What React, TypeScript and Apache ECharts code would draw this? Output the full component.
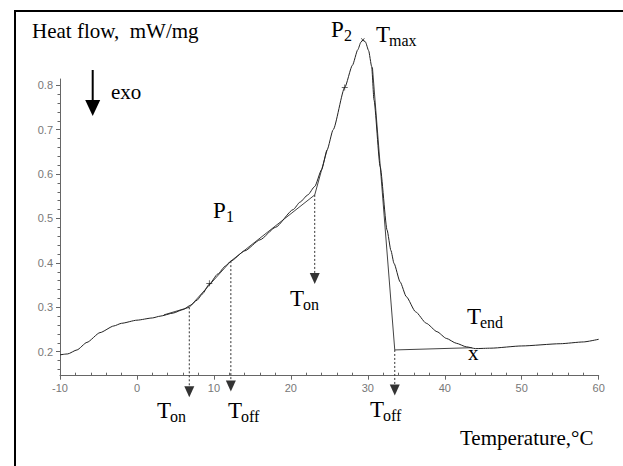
import React, { useEffect, useRef } from 'react';
import * as echarts from 'echarts';

// Main DSC curve (temperature °C, heat flow mW/mg)
const curveTemp = [-10, -9, -7.8, -6.5, -4.8, -3, -2, 0, 2, 3, 4.7, 6, 7, 7.8, 8.5, 9.4, 10.5, 11.5, 12.2, 14, 16, 18, 20.3, 21.2, 22.2, 23.1, 24.0, 24.7, 25.5, 27.0, 28.0, 28.7, 29.1, 29.4, 29.7, 30.1, 30.5, 30.8, 31.6, 32.5, 33.0, 33.4, 34.2, 35.0, 36.2, 37.6, 39.0, 40.2, 41.5, 42.8, 44.0, 46.0, 50.0, 55.0, 58.0, 60.0];
const curveHeat = [0.193, 0.195, 0.204, 0.221, 0.243, 0.258, 0.264, 0.271, 0.276, 0.280, 0.287, 0.295, 0.305, 0.316, 0.330, 0.352, 0.375, 0.393, 0.404, 0.427, 0.452, 0.480, 0.520, 0.537, 0.553, 0.572, 0.610, 0.654, 0.700, 0.795, 0.845, 0.880, 0.897, 0.902, 0.897, 0.878, 0.842, 0.767, 0.617, 0.474, 0.428, 0.399, 0.357, 0.324, 0.290, 0.264, 0.245, 0.230, 0.219, 0.211, 0.207, 0.208, 0.213, 0.218, 0.222, 0.228];

// Construction (tangent / baseline) lines
const buildTemp1 = [3.5, 6.8, 12.2, 23.1, 24.7];
const buildHeat1 = [0.283, 0.300, 0.404, 0.553, 0.654];
const buildTemp2 = [30.6, 33.5, 43.5];
const buildHeat2 = [0.84, 0.204, 0.209];

// Small markers on the curve
const crossTemp = [9.4, 27.0];
const crossHeat = [0.354, 0.795];
const peakTemp = [29.35];
const peakHeat = [0.902];

// Characteristic temperatures: dotted drop lines and arrows
const dropTemp = [6.8, 12.2, 23.1, 33.5];
const dropTopHeat = [0.300, 0.404, 0.553, 0.204];
const dropBottomHeat = [0.121, 0.135, 0.377, 0.125];
const arrowHeat = [0.110, 0.123, 0.365, 0.114];

// Axes
const xMin = -10;
const xMax = 60;
const xTicks = [-10, 0, 10, 20, 30, 40, 50, 60];
const yMin = 0.146;
const yMax = 0.814;
const yTicks = [0.2, 0.3, 0.4, 0.5, 0.6, 0.7, 0.8];

const minorOf = (ticks: number[], parts: number, lo: number, hi: number) => {
  const step = (ticks[1] - ticks[0]) / parts;
  const out: number[] = [];
  const start = ticks[0] - step * parts;
  for (let i = 0; i <= (ticks.length + 1) * parts; i++) {
    const v = Math.round((start + i * step) * 1e6) / 1e6;
    if (v > lo && v < hi && i % parts !== 0) out.push(v);
  }
  return out;
};

const serif = "'Times New Roman', 'Liberation Serif', serif";
const sans = "Arial, 'Liberation Sans', sans-serif";

const txt = (text: string, x: number, baseline: number, size: number) => ({
  type: 'text',
  x,
  y: baseline - 0.33 * size,
  style: { text, fontFamily: serif, fontSize: size, fill: '#000', align: 'left', verticalAlign: 'middle' },
  z: 10,
});

const labelT = (main: string, sub: string, x: number, baseline: number) => [
  txt(main, x, baseline, 23),
  txt(sub, x + 13, baseline + 4, 16),
];

export default function App() {
  const ref = useRef<HTMLDivElement>(null);
  useEffect(() => {
    if (!ref.current) return;
    const chart = echarts.init(ref.current, undefined, { renderer: 'svg' });
    const lineColor = '#222';
    const axisColor = '#666';
    const dropSeries = dropTemp.map((t, i) => ({
      type: 'line',
      data: [[t, dropTopHeat[i]], [t, dropBottomHeat[i]]],
      symbol: 'none',
      clip: false,
      lineStyle: { color: '#333', width: 1, type: [2, 2] },
      z: 3,
    }));
    chart.setOption({
      animation: false,
      backgroundColor: '#fff',
      grid: { left: 60, right: 24.3, top: 79, bottom: 90.3 },
      xAxis: [
        {
          type: 'value', min: xMin, max: xMax, interval: 10, position: 'bottom',
          axisLine: { onZero: false, lineStyle: { color: axisColor, width: 1 } },
          axisTick: { show: true, length: 4, lineStyle: { color: axisColor } },
          axisLabel: { color: '#777', fontFamily: sans, fontSize: 11, margin: 7 },
          splitLine: { show: false },
        },
        {
          type: 'value', min: xMin, max: xMax, position: 'bottom',
          axisLine: { show: false, onZero: false },
          axisTick: { show: true, inside: true, length: 3, lineStyle: { color: axisColor }, customValues: minorOf(xTicks, 5, xMin, xMax) },
          axisLabel: { show: false },
          splitLine: { show: false },
        },
      ],
      yAxis: [
        {
          type: 'value', min: yMin, max: yMax, position: 'left',
          axisLine: { show: true, onZero: false, lineStyle: { color: axisColor, width: 1 } },
          axisTick: { show: true, length: 4, lineStyle: { color: axisColor }, customValues: yTicks },
          axisLabel: { color: '#777', fontFamily: sans, fontSize: 11, margin: 7, customValues: yTicks, formatter: (v: number) => v.toFixed(1) },
          splitLine: { show: false },
        },
        {
          type: 'value', min: yMin, max: yMax, position: 'left',
          axisLine: { show: false, onZero: false },
          axisTick: { show: true, length: 2.5, lineStyle: { color: axisColor }, customValues: minorOf(yTicks, 5, yMin, yMax) },
          axisLabel: { show: false },
          splitLine: { show: false },
        },
      ],
      series: [
        {
          type: 'line',
          data: curveTemp.map((t, i) => [t, curveHeat[i]]),
          symbol: 'none',
          smooth: 0.2,
          smoothMonotone: 'x',
          clip: false,
          lineStyle: { color: lineColor, width: 1 },
          z: 4,
        },
        {
          type: 'line',
          data: buildTemp1.map((t, i) => [t, buildHeat1[i]]),
          symbol: 'none',
          clip: false,
          lineStyle: { color: '#444', width: 1 },
          z: 3,
        },
        {
          type: 'line',
          data: buildTemp2.map((t, i) => [t, buildHeat2[i]]),
          symbol: 'none',
          clip: false,
          lineStyle: { color: '#444', width: 1 },
          z: 3,
        },
        ...dropSeries,
        {
          type: 'scatter',
          data: dropTemp.map((t, i) => [t, arrowHeat[i]]),
          symbol: 'triangle',
          symbolRotate: 180,
          symbolSize: [10, 11],
          clip: false,
          itemStyle: { color: '#000' },
          z: 5,
        },
        {
          type: 'scatter',
          data: crossTemp.map((t, i) => [t, crossHeat[i]]),
          symbol: 'path://M4.4,0H5.6V4.4H10V5.6H5.6V10H4.4V5.6H0V4.4H4.4Z',
          symbolSize: 6,
          clip: false,
          itemStyle: { color: '#000' },
          z: 6,
        },
        {
          type: 'scatter',
          data: peakTemp.map((t, i) => [t, peakHeat[i]]),
          symbol: 'path://M4.4,0H5.6V4.4H10V5.6H5.6V10H4.4V5.6H0V4.4H4.4Z',
          symbolSize: 5,
          symbolRotate: 45,
          clip: false,
          itemStyle: { color: '#000' },
          z: 6,
        },
      ],
      graphic: [
        {
          type: 'polyline',
          shape: { points: [[15, 470], [15, 11], [630, 11]] },
          style: { stroke: '#000', lineWidth: 2, fill: 'none' },
          z: 20,
        },
        {
          type: 'line',
          shape: { x1: 92.7, y1: 70, x2: 92.7, y2: 102 },
          style: { stroke: '#000', lineWidth: 2 },
        },
        {
          type: 'polygon',
          shape: { points: [[85.2, 100], [100.2, 100], [92.7, 116]] },
          style: { fill: '#000' },
        },
        txt('Heat flow,\u00a0 mW/mg', 32, 38, 21),
        txt('exo', 111, 99, 21),
        ...labelT('P', '1', 213, 218),
        ...labelT('P', '2', 331, 37),
        ...labelT('T', 'max', 376, 42),
        ...labelT('T', 'on', 157, 418),
        ...labelT('T', 'off', 228, 418),
        ...labelT('T', 'on', 290, 306),
        ...labelT('T', 'off', 370, 417),
        ...labelT('T', 'end', 467, 324),
        txt('x', 468, 360, 21),
        txt('Temperature,°C', 460, 445, 21),
      ],
    });
    return () => chart.dispose();
  }, []);
  return <div ref={ref} style={{ position: 'fixed', left: 0, top: 0, width: 623, height: 466 }} />;
}
